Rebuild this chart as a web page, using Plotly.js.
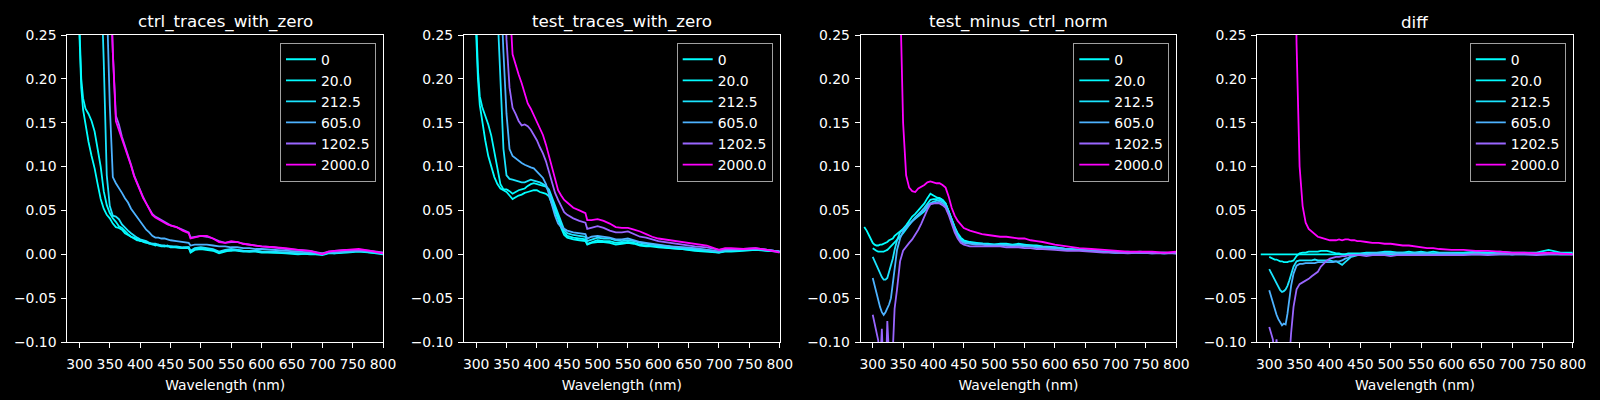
<!DOCTYPE html>
<html>
<head>
<meta charset="utf-8">
<script src="https://cdn.plot.ly/plotly-3.0.1.min.js"></script>
<style>
  html, body { margin: 0; padding: 0; background: #000; }
  #chart { width: 1600px; height: 400px; }
</style>
</head>
<body>
<div id="chart"></div>
<script>
// concentrations shown in every legend
const names = ['0', '20.0', '212.5', '605.0', '1202.5', '2000.0']
// matplotlib "cool" colormap sampled at conc / 2000
const colors = ['#00ffff', '#03fcff', '#1be4ff', '#4db2ff', '#9966ff', '#ff00ff']
const titles = ['ctrl_traces_with_zero', 'test_traces_with_zero', 'test_minus_ctrl_norm', 'diff']

// wavelength grid for the two raw panels
const wlRaw = [280, 290, 300, 303, 306, 310, 315, 320, 325, 330,
  335, 340, 345, 350, 355, 360, 365, 370, 375, 380,
  385, 390, 395, 400, 405, 410, 415, 420, 425, 430,
  435, 440, 445, 450, 460, 470, 480, 483, 490, 500,
  510, 520, 530, 540, 550, 560, 570, 580, 590, 600,
  620, 640, 660, 680, 700, 710, 720, 740, 760, 780,
  800]

const ctrl0 = [0.62, 0.42, 0.25, 0.19, 0.165, 0.148, 0.128, 0.112, 0.098, 0.080,
  0.063, 0.052, 0.045, 0.041, 0.035, 0.031, 0.030, 0.028, 0.024, 0.022,
  0.020, 0.018, 0.016, 0.016, 0.014, 0.013, 0.013, 0.011, 0.011, 0.010,
  0.009, 0.009, 0.010, 0.008, 0.008, 0.007, 0.008, 0.002, 0.005, 0.006,
  0.005, 0.004, 0.001, 0.003, 0.005, 0.004, 0.003, 0.003, 0.003, 0.002,
  0.002, 0.001, 0.000, 0.001, -0.001, 0.001, 0.001, 0.002, 0.003, 0.002,
  0.000]
const ctrl20 = [0.65, 0.45, 0.27, 0.20, 0.178, 0.166, 0.160, 0.152, 0.140, 0.122,
  0.100, 0.072, 0.056, 0.047, 0.041, 0.037, 0.032, 0.030, 0.026, 0.023,
  0.020, 0.019, 0.017, 0.015, 0.015, 0.014, 0.012, 0.012, 0.010, 0.011,
  0.010, 0.009, 0.009, 0.009, 0.008, 0.007, 0.007, 0.003, 0.006, 0.006,
  0.006, 0.005, 0.002, 0.004, 0.004, 0.005, 0.004, 0.003, 0.004, 0.003,
  0.002, 0.002, 0.001, 0.000, 0.000, 0.002, 0.001, 0.003, 0.004, 0.002,
  0.001]
const ctrl212 = [1.50, 1.20, 0.95, 0.90, 0.85, 0.78, 0.70, 0.60, 0.50, 0.42,
  0.33, 0.22, 0.090, 0.055, 0.044, 0.043, 0.040, 0.034, 0.030, 0.027,
  0.024, 0.021, 0.019, 0.017, 0.016, 0.015, 0.013, 0.012, 0.012, 0.011,
  0.010, 0.010, 0.009, 0.009, 0.009, 0.008, 0.008, 0.004, 0.007, 0.008,
  0.007, 0.006, 0.003, 0.005, 0.006, 0.005, 0.004, 0.004, 0.004, 0.003,
  0.003, 0.002, 0.001, 0.001, 0.000, 0.002, 0.002, 0.003, 0.004, 0.003,
  0.001]
const ctrl605 = [1.60, 1.30, 1.05, 1.00, 0.95, 0.88, 0.80, 0.70, 0.60, 0.52,
  0.44, 0.37, 0.29, 0.17, 0.088, 0.081, 0.076, 0.070, 0.064, 0.059,
  0.052, 0.047, 0.042, 0.037, 0.032, 0.028, 0.025, 0.021, 0.019, 0.019,
  0.018, 0.018, 0.017, 0.016, 0.015, 0.014, 0.013, 0.010, 0.011, 0.011,
  0.011, 0.010, 0.009, 0.009, 0.008, 0.008, 0.007, 0.007, 0.006, 0.006,
  0.005, 0.004, 0.003, 0.002, 0.001, 0.002, 0.002, 0.003, 0.004, 0.003,
  0.001]
const ctrl1202 = [1.90, 1.60, 1.35, 1.28, 1.22, 1.12, 1.02, 0.92, 0.83, 0.73,
  0.64, 0.54, 0.44, 0.32, 0.23, 0.158, 0.148, 0.134, 0.124, 0.114,
  0.102, 0.090, 0.081, 0.072, 0.065, 0.058, 0.052, 0.046, 0.043, 0.041,
  0.039, 0.037, 0.035, 0.033, 0.031, 0.028, 0.025, 0.019, 0.020, 0.021,
  0.020, 0.018, 0.015, 0.013, 0.014, 0.014, 0.012, 0.011, 0.010, 0.009,
  0.008, 0.006, 0.005, 0.004, 0.001, 0.003, 0.004, 0.005, 0.005, 0.004,
  0.002]
const ctrl2000 = [2.00, 1.70, 1.40, 1.30, 1.25, 1.15, 1.05, 0.95, 0.85, 0.75,
  0.66, 0.56, 0.45, 0.33, 0.23, 0.152, 0.142, 0.131, 0.122, 0.113,
  0.101, 0.089, 0.080, 0.071, 0.064, 0.058, 0.051, 0.045, 0.042, 0.040,
  0.038, 0.036, 0.034, 0.033, 0.031, 0.027, 0.024, 0.018, 0.019, 0.021,
  0.021, 0.018, 0.014, 0.013, 0.015, 0.014, 0.012, 0.011, 0.010, 0.009,
  0.008, 0.007, 0.005, 0.004, 0.000, 0.003, 0.004, 0.005, 0.006, 0.004,
  0.001]

const test0 = [0.60, 0.42, 0.255, 0.20, 0.170, 0.150, 0.130, 0.112, 0.100, 0.088,
  0.080, 0.075, 0.073, 0.071, 0.067, 0.063, 0.065, 0.067, 0.068, 0.070,
  0.071, 0.072, 0.073, 0.073, 0.071, 0.070, 0.069, 0.066, 0.058, 0.050,
  0.040, 0.030, 0.022, 0.019, 0.017, 0.016, 0.015, 0.011, 0.013, 0.014,
  0.014, 0.013, 0.011, 0.012, 0.013, 0.012, 0.010, 0.009, 0.009, 0.008,
  0.007, 0.006, 0.004, 0.003, 0.002, 0.003, 0.003, 0.004, 0.005, 0.004,
  0.003]
const test20 = [0.65, 0.45, 0.27, 0.21, 0.180, 0.168, 0.158, 0.148, 0.135, 0.118,
  0.097, 0.080, 0.074, 0.074, 0.072, 0.069, 0.071, 0.073, 0.074, 0.075,
  0.078, 0.080, 0.081, 0.080, 0.079, 0.078, 0.077, 0.072, 0.062, 0.053,
  0.043, 0.033, 0.025, 0.021, 0.019, 0.018, 0.017, 0.012, 0.014, 0.016,
  0.015, 0.015, 0.013, 0.013, 0.014, 0.013, 0.011, 0.010, 0.009, 0.009,
  0.007, 0.006, 0.005, 0.004, 0.002, 0.004, 0.004, 0.005, 0.006, 0.004,
  0.003]
const test212 = [1.40, 1.10, 0.90, 0.85, 0.80, 0.72, 0.62, 0.53, 0.44, 0.36,
  0.27, 0.19, 0.12, 0.090, 0.086, 0.085, 0.084, 0.083, 0.082, 0.082,
  0.084, 0.085, 0.084, 0.083, 0.082, 0.080, 0.078, 0.074, 0.065, 0.056,
  0.046, 0.036, 0.028, 0.024, 0.022, 0.021, 0.020, 0.015, 0.017, 0.019,
  0.018, 0.018, 0.016, 0.015, 0.016, 0.015, 0.013, 0.012, 0.011, 0.010,
  0.009, 0.007, 0.006, 0.005, 0.003, 0.004, 0.005, 0.005, 0.006, 0.005,
  0.003]
const test605 = [1.60, 1.30, 1.05, 1.00, 0.95, 0.87, 0.77, 0.67, 0.57, 0.48,
  0.39, 0.31, 0.23, 0.16, 0.120, 0.112, 0.109, 0.106, 0.104, 0.102,
  0.100, 0.099, 0.098, 0.094, 0.091, 0.087, 0.080, 0.068, 0.055, 0.044,
  0.035, 0.031, 0.029, 0.027, 0.025, 0.024, 0.023, 0.018, 0.020, 0.021,
  0.020, 0.019, 0.017, 0.017, 0.018, 0.016, 0.014, 0.013, 0.012, 0.011,
  0.009, 0.008, 0.007, 0.005, 0.003, 0.005, 0.005, 0.006, 0.006, 0.005,
  0.003]
const test1202 = [1.80, 1.50, 1.25, 1.20, 1.13, 1.05, 0.95, 0.85, 0.75, 0.65,
  0.55, 0.45, 0.35, 0.245, 0.190, 0.167, 0.160, 0.152, 0.147, 0.148,
  0.146, 0.142, 0.136, 0.130, 0.122, 0.115, 0.106, 0.093, 0.080, 0.070,
  0.062, 0.054, 0.048, 0.045, 0.041, 0.038, 0.036, 0.029, 0.030, 0.032,
  0.030, 0.027, 0.025, 0.025, 0.026, 0.023, 0.020, 0.019, 0.017, 0.015,
  0.013, 0.011, 0.009, 0.008, 0.005, 0.006, 0.006, 0.006, 0.007, 0.005,
  0.003]
const test2000 = [2.20, 1.90, 1.60, 1.52, 1.45, 1.35, 1.22, 1.10, 0.98, 0.86,
  0.74, 0.62, 0.50, 0.39, 0.29, 0.228, 0.215, 0.205, 0.195, 0.184,
  0.172, 0.166, 0.158, 0.150, 0.143, 0.136, 0.125, 0.112, 0.097, 0.083,
  0.073, 0.067, 0.062, 0.059, 0.053, 0.050, 0.047, 0.039, 0.039, 0.040,
  0.038, 0.035, 0.031, 0.030, 0.030, 0.028, 0.026, 0.023, 0.020, 0.018,
  0.016, 0.014, 0.012, 0.010, 0.005, 0.007, 0.007, 0.006, 0.007, 0.005,
  0.002]

// wavelength grid for the two derived panels
const wlDerived = [283, 286, 290, 295, 300, 303, 306, 309, 312, 315,
  318, 321, 324, 327, 330, 333, 336, 340, 345, 350,
  355, 360, 365, 370, 375, 380, 385, 390, 395, 400,
  405, 410, 415, 420, 425, 430, 435, 440, 445, 450,
  460, 470, 480, 490, 500, 510, 520, 530, 540, 550,
  560, 570, 580, 600, 620, 640, 660, 680, 700, 720,
  740, 760, 780, 800]

const norm0 = [null, 0.031, 0.027, 0.020, 0.013, 0.011, 0.010, 0.010, 0.011, 0.011,
  0.012, 0.013, 0.014, 0.016, 0.017, 0.018, 0.021, 0.023, 0.026, 0.029,
  0.033, 0.038, 0.043, 0.046, 0.050, 0.054, 0.058, 0.064, 0.069, 0.067,
  0.065, 0.064, 0.062, 0.058, 0.050, 0.040, 0.031, 0.024, 0.019, 0.016,
  0.014, 0.013, 0.012, 0.012, 0.011, 0.012, 0.012, 0.011, 0.012, 0.011,
  0.010, 0.010, 0.009, 0.008, 0.006, 0.005, 0.004, 0.003, 0.002, 0.003,
  0.002, 0.002, 0.001, 0.002]
const norm20 = [null, null, null, null, 0.007, 0.005, 0.004, 0.003, 0.003, 0.003,
  0.003, 0.004, 0.005, 0.007, 0.009, 0.011, 0.013, 0.016, 0.020, 0.024,
  0.029, 0.034, 0.038, 0.042, 0.045, 0.049, 0.053, 0.058, 0.062, 0.063,
  0.063, 0.064, 0.062, 0.058, 0.049, 0.039, 0.030, 0.022, 0.017, 0.015,
  0.013, 0.012, 0.012, 0.011, 0.011, 0.011, 0.011, 0.010, 0.011, 0.010,
  0.010, 0.009, 0.008, 0.007, 0.006, 0.005, 0.004, 0.003, 0.002, 0.002,
  0.003, 0.002, 0.002, 0.001]
const norm212 = [null, null, null, null, -0.003, -0.008, -0.013, -0.018, -0.022, -0.026,
  -0.029, -0.029, -0.027, -0.020, -0.013, -0.005, 0.005, 0.016, 0.025, 0.029,
  0.032, 0.035, 0.038, 0.040, 0.043, 0.046, 0.049, 0.054, 0.058, 0.060,
  0.061, 0.062, 0.060, 0.057, 0.049, 0.039, 0.030, 0.022, 0.016, 0.014,
  0.013, 0.012, 0.012, 0.011, 0.011, 0.011, 0.011, 0.010, 0.010, 0.010,
  0.009, 0.009, 0.008, 0.007, 0.006, 0.005, 0.004, 0.003, 0.003, 0.002,
  0.002, 0.002, 0.001, 0.002]
const norm605 = [null, null, null, null, -0.027, -0.036, -0.045, -0.053, -0.060, -0.066,
  -0.069, -0.066, -0.062, -0.057, -0.050, -0.035, -0.015, 0.005, 0.018, 0.026,
  0.030, 0.034, 0.037, 0.041, 0.045, 0.048, 0.052, 0.056, 0.058, 0.058,
  0.059, 0.060, 0.058, 0.055, 0.047, 0.037, 0.028, 0.020, 0.015, 0.013,
  0.012, 0.011, 0.011, 0.010, 0.010, 0.010, 0.010, 0.009, 0.010, 0.009,
  0.009, 0.008, 0.008, 0.007, 0.006, 0.005, 0.004, 0.003, 0.002, 0.002,
  0.002, 0.001, 0.002, 0.001]
const norm1202 = [null, null, null, null, -0.069, -0.080, -0.088, -0.098, -0.130, -0.085,
  -0.140, -0.150, -0.076, -0.150, -0.160, -0.110, -0.062, -0.040, -0.008, 0.004,
  0.009, 0.013, 0.017, 0.022, 0.028, 0.035, 0.044, 0.051, 0.057, 0.058,
  0.058, 0.058, 0.056, 0.053, 0.045, 0.034, 0.025, 0.018, 0.013, 0.011,
  0.009, 0.009, 0.009, 0.009, 0.009, 0.009, 0.008, 0.008, 0.008, 0.007,
  0.007, 0.006, 0.006, 0.005, 0.004, 0.004, 0.003, 0.002, 0.002, 0.001,
  0.002, 0.001, 0.001, 0.001]
const norm2000 = [null, null, null, null, 1.00, 0.95, 0.90, 0.85, 0.80, 0.76,
  0.72, 0.68, 0.64, 0.60, 0.56, 0.52, 0.47, 0.40, 0.30, 0.150,
  0.090, 0.076, 0.072, 0.071, 0.075, 0.077, 0.079, 0.082, 0.083, 0.082,
  0.081, 0.081, 0.079, 0.076, 0.066, 0.053, 0.044, 0.038, 0.034, 0.030,
  0.027, 0.025, 0.023, 0.022, 0.021, 0.020, 0.020, 0.019, 0.018, 0.018,
  0.016, 0.015, 0.014, 0.011, 0.009, 0.007, 0.006, 0.005, 0.004, 0.003,
  0.003, 0.003, 0.002, 0.003]

const diff0 = [null, 0, 0, 0, 0, 0, 0, 0, 0, 0,
  0, 0, 0, 0, 0, 0, 0, 0, 0, 0,
  0, 0, 0, 0, 0, 0, 0, 0, 0, 0,
  0, 0, 0, 0, 0, 0, 0, 0, 0, 0,
  0, 0, 0, 0, 0, 0, 0, 0, 0, 0,
  0, 0, 0, 0, 0, 0, 0, 0, 0, 0,
  0, 0, 0, 0]
const diff20 = [null, null, null, null, -0.003, -0.004, -0.005, -0.006, -0.006, -0.007,
  -0.008, -0.008, -0.009, -0.009, -0.009, -0.008, -0.008, -0.007, -0.002, 0.001,
  0.002, 0.002, 0.003, 0.003, 0.003, 0.003, 0.004, 0.004, 0.004, 0.003,
  0.002, 0.001, 0.001, 0.000, 0.000, 0.001, 0.001, 0.001, 0.001, 0.001,
  0.002, 0.002, 0.002, 0.003, 0.003, 0.002, 0.002, 0.003, 0.002, 0.003,
  0.002, 0.003, 0.002, 0.002, 0.002, 0.003, 0.002, 0.003, 0.002, 0.002,
  0.002, 0.005, 0.002, 0.002]
const diff212 = [null, null, null, null, -0.017, -0.021, -0.026, -0.030, -0.034, -0.037,
  -0.041, -0.043, -0.042, -0.040, -0.036, -0.030, -0.024, -0.014, -0.008, -0.007,
  -0.007, -0.007, -0.007, -0.007, -0.006, -0.007, -0.007, -0.007, -0.007, -0.007,
  -0.008, -0.008, -0.010, -0.012, -0.009, -0.006, -0.003, -0.002, -0.001, 0.000,
  0.001, 0.001, 0.002, 0.002, 0.002, 0.002, 0.002, 0.001, 0.002, 0.002,
  0.001, 0.001, 0.001, 0.001, 0.001, 0.002, 0.001, 0.001, 0.000, 0.001,
  0.001, 0.001, 0.001, 0.000]
const diff605 = [null, null, null, null, -0.041, -0.048, -0.056, -0.063, -0.069, -0.074,
  -0.078, -0.081, -0.079, -0.080, -0.068, -0.050, -0.036, -0.022, -0.013, -0.011,
  -0.011, -0.010, -0.010, -0.010, -0.010, -0.009, -0.009, -0.009, -0.009, -0.009,
  -0.009, -0.008, -0.008, -0.007, -0.005, -0.004, -0.002, -0.001, -0.001, 0.000,
  0.000, 0.001, 0.001, 0.001, 0.001, 0.001, 0.001, 0.000, 0.001, 0.001,
  0.001, 0.000, 0.001, 0.001, 0.000, 0.001, 0.000, 0.001, 0.000, 0.001,
  0.000, 0.001, 0.000, 0.000]
const diff1202 = [null, null, null, null, -0.083, -0.090, -0.097, -0.120, -0.097, -0.130,
  -0.140, -0.100, -0.150, -0.160, -0.140, -0.120, -0.090, -0.060, -0.040, -0.034,
  -0.032, -0.030, -0.028, -0.025, -0.022, -0.020, -0.014, -0.010, -0.007, -0.005,
  -0.004, -0.003, -0.003, -0.002, -0.002, -0.001, -0.001, -0.001, -0.001, -0.001,
  -0.002, -0.001, -0.001, -0.001, -0.002, -0.001, -0.001, -0.001, -0.001, -0.001,
  -0.001, -0.001, -0.001, -0.001, -0.001, 0.000, -0.001, 0.000, 0.000, 0.000,
  -0.001, 0.000, 0.000, 0.000]
const diff2000 = [null, null, null, null, 1.30, 1.20, 1.15, 1.10, 1.05, 1.00,
  0.95, 0.90, 0.85, 0.80, 0.74, 0.68, 0.62, 0.52, 0.24, 0.100,
  0.055, 0.036, 0.029, 0.026, 0.022, 0.020, 0.019, 0.018, 0.017, 0.016,
  0.016, 0.016, 0.017, 0.016, 0.017, 0.017, 0.016, 0.016, 0.015, 0.015,
  0.014, 0.013, 0.013, 0.012, 0.012, 0.011, 0.010, 0.010, 0.009, 0.008,
  0.007, 0.007, 0.006, 0.005, 0.005, 0.004, 0.004, 0.003, 0.002, 0.002,
  0.001, 0.002, 0.001, 0.000]

const panels = [
  { wl: wlRaw, series: [ctrl0, ctrl20, ctrl212, ctrl605, ctrl1202, ctrl2000] },
  { wl: wlRaw, series: [test0, test20, test212, test605, test1202, test2000] },
  { wl: wlDerived, series: [norm0, norm20, norm212, norm605, norm1202, norm2000] },
  { wl: wlDerived, series: [diff0, diff20, diff212, diff605, diff1202, diff2000] },
]

const W = 1600
const H = 400
// axes boxes in pixels (left edge, width), shared top/bottom
const axLeft = [67.3, 464, 860.6, 1257.1]
const axWidth = 315.7
const axTop = 35
const axBottom = 342

const data = []
const layout = {
  width: W,
  height: H,
  paper_bgcolor: '#000',
  plot_bgcolor: '#000',
  font: { family: 'DejaVu Sans, sans-serif', size: 13.9, color: '#fff' },
  margin: { l: 0, r: 0, t: 0, b: 0 },
  showlegend: true,
  annotations: [],
}

const axisStyle = {
  showline: true,
  linecolor: '#fff',
  linewidth: 1,
  mirror: true,
  ticks: 'outside',
  ticklen: 5,
  tickwidth: 1,
  tickcolor: '#fff',
  showgrid: false,
  zeroline: false,
  fixedrange: true,
  tickfont: { size: 13.9, color: '#fff' },
}

panels.forEach((p, i) => {
  const n = i === 0 ? '' : String(i + 1)
  const legendId = 'legend' + n
  p.series.forEach((ys, k) => {
    data.push({
      x: p.wl,
      y: ys,
      xaxis: 'x' + n,
      yaxis: 'y' + n,
      type: 'scatter',
      mode: 'lines',
      name: names[k],
      legend: legendId,
      line: { color: colors[k], width: 1.8 },
      hoverinfo: 'skip',
    })
  })

  const x0 = axLeft[i] / W
  const x1 = (axLeft[i] + axWidth) / W
  layout['xaxis' + n] = {
    ...axisStyle,
    domain: [x0, x1],
    anchor: 'y' + n,
    range: [280, 800],
    tick0: 300,
    dtick: 50,
    ticklabelstandoff: 4,
    title: { text: 'Wavelength (nm)', standoff: 9, font: { size: 13.9, color: '#fff' } },
  }
  layout['yaxis' + n] = {
    ...axisStyle,
    domain: [1 - axBottom / H, 1 - axTop / H],
    anchor: 'x' + n,
    range: [-0.1, 0.25],
    tick0: 0,
    dtick: 0.05,
    tickformat: '.2f',
    ticklabelstandoff: 2,
  }
  layout[legendId] = {
    x: (axLeft[i] + axWidth - 7) / W,
    y: 1 - 42.7 / H,
    xanchor: 'right',
    yanchor: 'top',
    bgcolor: '#000',
    bordercolor: '#a0a0a0',
    borderwidth: 1,
    font: { size: 13.9, color: '#fff' },
    tracegroupgap: 0,
  }
  layout.annotations.push({
    text: titles[i],
    xref: 'x' + n + ' domain',
    yref: 'y' + n + ' domain',
    x: 0.5,
    y: 1,
    xanchor: 'center',
    yanchor: 'bottom',
    yshift: 1,
    showarrow: false,
    font: { size: 16.7, color: '#fff' },
  })
})

const config = {
  staticPlot: true,
  displayModeBar: false,
  responsive: false,
}

Plotly.newPlot('chart', data, layout, config)
</script>
</body>
</html>
